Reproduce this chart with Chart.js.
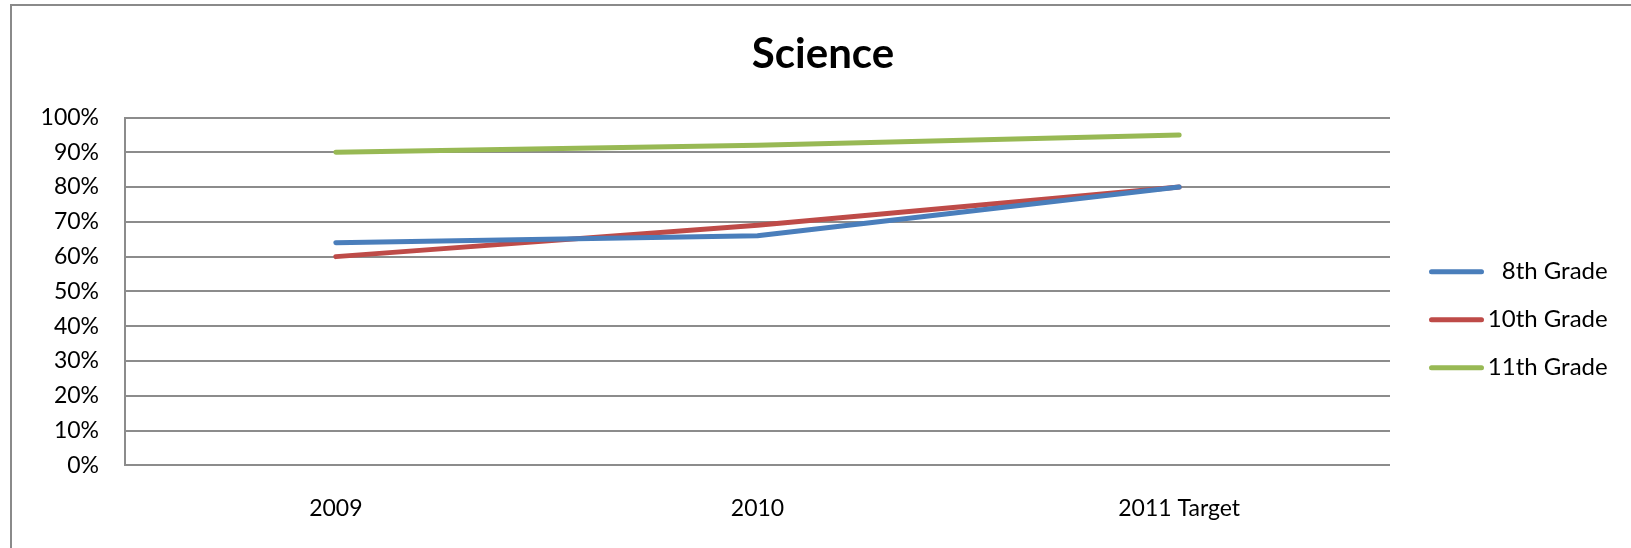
<!DOCTYPE html>
<html>
<head>
<meta charset="utf-8">
<title>Science</title>
<script src="https://cdn.jsdelivr.net/npm/chart.js@4/dist/chart.umd.min.js"></script>
<style>
  html, body { margin: 0; padding: 0; background: #fff; overflow: hidden; }
  canvas { display: block; }
</style>
</head>
<body>
<canvas id="chart" width="1631" height="548"></canvas>
<script>
// Chart data
const years = ['2009', '2010', '2011 Target'];
const seriesNames = ['8th Grade', '10th Grade', '11th Grade'];
const grade8 = [64, 66, 80];
const grade10 = [60, 69, 80];
const grade11 = [90, 92, 95];
const yTicks = [0, 10, 20, 30, 40, 50, 60, 70, 80, 90, 100];

const colors = ['#4a7ebb', '#be4b48', '#98b954'];
const gridColor = '#8c8c8c';

Chart.defaults.font.family = 'Lato, "Open Sans", sans-serif';
Chart.defaults.color = '#000';

// Frame drawn round the whole chart (left and top edges are visible)
const framePlugin = {
  id: 'frame',
  beforeDraw(chart) {
    const ctx = chart.ctx;
    ctx.save();
    ctx.strokeStyle = '#8a8a8a';
    ctx.lineWidth = 2;
    ctx.beginPath();
    ctx.moveTo(11, chart.height + 2);
    ctx.lineTo(11, 5);
    ctx.lineTo(chart.width + 2, 5);
    ctx.stroke();
    ctx.restore();
  }
};

const makeSet = (label, data, color) => ({
  label,
  data,
  borderColor: color,
  backgroundColor: color,
  borderWidth: 5,
  borderCapStyle: 'round',
  borderJoinStyle: 'round',
  pointRadius: 0,
  pointHoverRadius: 0,
  tension: 0,
  fill: false
});

new Chart(document.getElementById('chart'), {
  type: 'line',
  data: {
    labels: years,
    datasets: [
      makeSet(seriesNames[0], grade8, colors[0]),
      makeSet(seriesNames[1], grade10, colors[1]),
      makeSet(seriesNames[2], grade11, colors[2])
    ]
  },
  options: {
    responsive: false,
    animation: false,
    devicePixelRatio: 1,
    layout: { padding: { left: 38.3, right: 23.3, top: 0, bottom: 0 } },
    plugins: {
      title: {
        display: true,
        text: 'Science',
        color: '#000',
        font: { size: 42, weight: 'bold' },
        padding: { top: 29.6, bottom: 37.5 }
      },
      legend: {
        display: true,
        position: 'right',
        align: 'center',
        maxWidth: 202.7,
        title: { display: true, text: '', font: { size: 12 }, padding: { top: 0, bottom: 77 } },
        labels: {
          font: { size: 24 },
          color: '#000',
          boxWidth: 55,
          boxHeight: 5,
          padding: 24,
          textAlign: 'right',
          useBorderRadius: true,
          borderRadius: 2.5,
          generateLabels(chart) {
            return Chart.defaults.plugins.legend.labels.generateLabels(chart)
              .map(item => Object.assign(item, { lineWidth: 0 }));
          }
        }
      },
      tooltip: { enabled: false }
    },
    scales: {
      x: {
        type: 'category',
        offset: true,
        grid: { display: false, drawTicks: false },
        border: { display: false },
        ticks: { font: { size: 23 }, color: '#000', padding: 29, maxRotation: 0 },
        afterFit(scale) { scale.height = 82.7; }
      },
      y: {
        type: 'linear',
        position: 'left',
        min: 0,
        max: 100,
        afterBuildTicks(scale) { scale.ticks = yTicks.map(v => ({ value: v })); },
        grid: { color: gridColor, lineWidth: 2, drawTicks: false },
        border: { display: true, color: gridColor, width: 2 },
        ticks: {
          font: { size: 23 },
          color: '#000',
          padding: 26,
          callback: v => v + '%'
        },
        afterFit(scale) { scale.width = 125 - 38.3; }
      },
      gap: {
        type: 'linear',
        position: 'right',
        display: true,
        grid: { display: false, drawTicks: false },
        border: { display: false },
        ticks: { display: false },
        afterFit(scale) { scale.width = 15; }
      }
    }
  },
  plugins: [framePlugin]
});
</script>
</body>
</html>
